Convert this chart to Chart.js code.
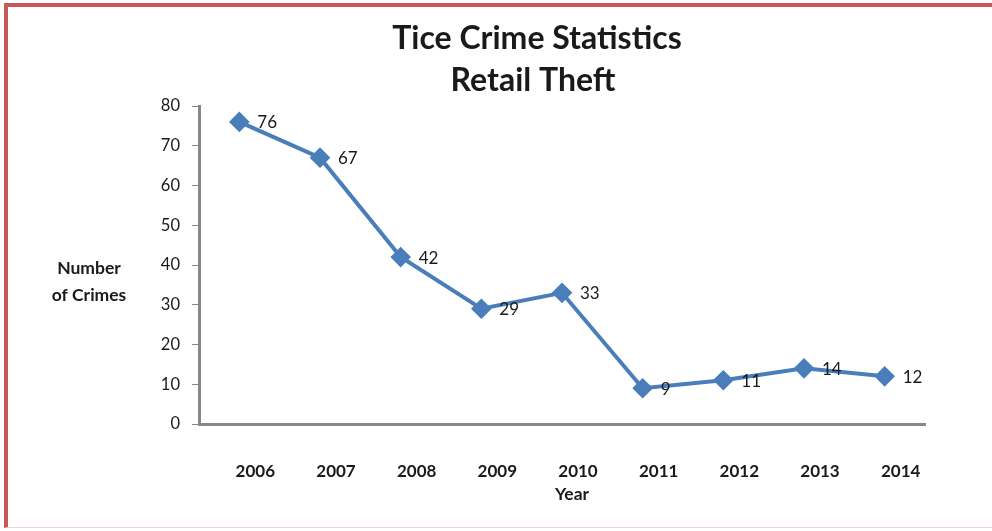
<!DOCTYPE html>
<html>
<head>
<meta charset="utf-8">
<script src="https://cdn.jsdelivr.net/npm/chart.js@4.4.1/dist/chart.umd.min.js"></script>
<style>
  html, body { margin: 0; padding: 0; background: #fff; }
  #wrap { position: relative; width: 992px; height: 531px; overflow: hidden; }
  #frame {
    position: absolute; left: 4px; top: 3px; width: 1000px; height: 525px;
    border-left: 4px solid #c9585a; border-top: 4px solid #c9585a;
    border-bottom: 1px solid #f0d4d4; box-sizing: border-box; pointer-events: none;
  }
  canvas { position: absolute; left: 0; top: 0; }
</style>
</head>
<body>
<div id="wrap">
  <canvas id="chart" width="992" height="531"></canvas>
  <div id="frame"></div>
</div>
<script>
// Retail theft counts by year
var years = ['2006', '2007', '2008', '2009', '2010', '2011', '2012', '2013', '2014'];
var crimes = [76, 67, 42, 29, 33, 9, 11, 14, 12];
var yTicks = [0, 10, 20, 30, 40, 50, 60, 70, 80];

var titleLines = ['Tice Crime Statistics', 'Retail Theft'];
var yTitleLines = ['Number', 'of Crimes'];
var xTitle = 'Year';

var FONT = 'Lato, "Open Sans", sans-serif';
var INK = '#1a1a1a';

// titles, axis captions and point values are painted here
var textPlugin = {
  id: 'textLayer',
  afterDraw: function(chart) {
    var ctx = chart.ctx;
    ctx.save();
    ctx.fillStyle = INK;
    ctx.textAlign = 'center';
    ctx.textBaseline = 'middle';

    ctx.font = 'bold 32px ' + FONT;
    ctx.fillText(titleLines[0], 537, 39);
    ctx.fillText(titleLines[1], 533, 81);

    ctx.font = 'bold 17.5px ' + FONT;
    ctx.fillText(yTitleLines[0], 89, 268);
    ctx.fillText(yTitleLines[1], 89, 295);
    ctx.fillText(xTitle, 572, 494);

    // value next to each marker
    ctx.font = '17px ' + FONT;
    ctx.textAlign = 'left';
    var meta = chart.getDatasetMeta(0);
    meta.data.forEach(function(pt, i) {
      ctx.fillText(String(crimes[i]), pt.x + 18, pt.y + 1);
    });
    ctx.restore();
  }
};

new Chart(document.getElementById('chart'), {
  type: 'line',
  data: {
    labels: years,
    datasets: [{
      data: crimes,
      borderColor: '#4a7ebb',
      backgroundColor: '#4a7ebb',
      borderWidth: 4,
      pointStyle: 'rectRot',
      pointRadius: 7.5,
      pointHoverRadius: 7.5,
      tension: 0
    }]
  },
  options: {
    responsive: false,
    animation: false,
    layout: { padding: { left: 0, top: 106, right: 67, bottom: 0 } },
    plugins: {
      legend: { display: false },
      title: { display: false },
      tooltip: { enabled: false }
    },
    scales: {
      x: {
        offset: true,
        grid: { display: false, drawTicks: false },
        border: { color: '#878787', width: 3 },
        ticks: {
          color: INK,
          padding: 37,
          labelOffset: 16,
          font: { family: FONT, size: 17, weight: 'bold' }
        },
        afterFit: function(s) { s.height = 531 - 424; }
      },
      y: {
        min: 0,
        max: 80,
        afterBuildTicks: function(s) {
          s.ticks = yTicks.map(function(v) { return { value: v }; });
        },
        grid: { drawOnChartArea: false, drawTicks: true, tickLength: 7, color: '#878787' },
        border: { color: '#878787', width: 3 },
        ticks: {
          color: INK,
          padding: 12,
          font: { family: FONT, size: 16.5 }
        },
        afterFit: function(s) { s.width = 199; }
      }
    }
  },
  plugins: [textPlugin]
});
</script>
</body>
</html>
